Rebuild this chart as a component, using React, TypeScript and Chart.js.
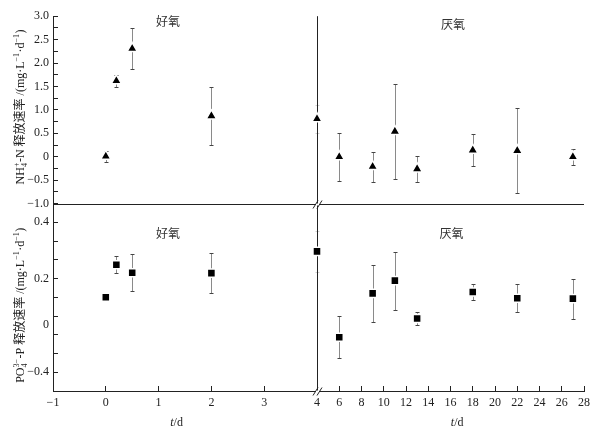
import React, { useEffect, useRef } from 'react';
import { Chart, registerables } from 'chart.js';
Chart.register(...registerables);

// ---- data ----
const aerobicDays = [0, 0.2, 0.5, 2, 4];
const anaerobicDays = [6, 9, 11, 13, 18, 22, 27];

const nhAerobic = [0.01, 1.62, 2.31, 0.87, 0.81];
const nhAerobicErr = [0.12, 0.13, 0.44, 0.62, 0.3];
const nhAnaerobic = [0.0, -0.21, 0.54, -0.26, 0.14, 0.13, 0.0];
const nhAnaerobicErr = [0.51, 0.32, 1.02, 0.28, 0.34, 0.9, 0.17];

const poAerobic = [0.0, 0.174, 0.131, 0.129, 0.245];
const poAerobicErr = [0, 0.044, 0.1, 0.105, 0.11];
const poAnaerobic = [-0.213, 0.021, 0.089, -0.113, 0.028, -0.005, -0.007];
const poAnaerobicErr = [0.112, 0.152, 0.155, 0.037, 0.043, 0.074, 0.107];

const faintAerobic = [false, false, false, false, true];
const faintAnaerobic = [false, false, false, false, false, false, false];

// ---- ticks ----
const leftXTicks = [-1, 0, 1, 2, 3, 4];
const rightXTicks = [4, 6, 8, 10, 12, 14, 16, 18, 20, 22, 24, 26, 28];
const poTickValues = [-0.5, -0.4, -0.3, -0.2, -0.145, -0.1, 0, 0.1, 0.2, 0.3, 0.4, 0.5];
const poLabelValues = [0.4, 0.1, -0.145, -0.4];
const poLabelTexts = ['0.4', '0.2', '0', '\u22120.4'];

const aerobicLabel = '好氧';
const anaerobicLabel = '厌氧';

const SERIF = '"Liberation Serif", "Times New Roman", "Noto Sans CJK SC", serif';
const INK = '#222';
const CLEAR = 'rgba(0,0,0,0)';

const near = (a: number, b: number) => Math.abs(a - b) < 1e-6;

const fmtNum = (v: number, digits: number) => {
  if (near(v, 0)) return '0';
  const s = Math.abs(v).toFixed(digits);
  return v < 0 ? '\u2212' + s : s;
};

type Seg = { t?: string; sup?: string; sub?: string };
const nhTitle: Seg[] = [
  { t: 'NH' }, { sub: '4', sup: '+' }, { t: '-N 释放速率 /(mg·L' }, { sup: '\u22121' }, { t: '·d' }, { sup: '\u22121' }, { t: ')' },
];
const poTitle: Seg[] = [
  { t: 'PO' }, { sub: '4', sup: '3\u2212' }, { t: '-P 释放速率 /(mg·L' }, { sup: '\u22121' }, { t: '·d' }, { sup: '\u22121' }, { t: ')' },
];

function drawRich(ctx: CanvasRenderingContext2D, segs: Seg[], cx: number, cy: number) {
  const big = '12px ' + SERIF;
  const small = '8px ' + SERIF;
  const widths = segs.map((s) => {
    if (s.t !== undefined) { ctx.font = big; return ctx.measureText(s.t).width; }
    ctx.font = small;
    return Math.max(s.sup ? ctx.measureText(s.sup).width : 0, s.sub ? ctx.measureText(s.sub).width : 0) + 0.5;
  });
  const total = widths.reduce((a, b) => a + b, 0);
  ctx.save();
  ctx.translate(cx, cy);
  ctx.rotate(-Math.PI / 2);
  ctx.fillStyle = INK;
  ctx.textBaseline = 'alphabetic';
  ctx.textAlign = 'left';
  let x = -total / 2;
  const base = 4;
  segs.forEach((s, i) => {
    if (s.t !== undefined) {
      ctx.font = big;
      ctx.fillText(s.t, x, base);
    } else {
      ctx.font = small;
      if (s.sup) ctx.fillText(s.sup, x, base - 5);
      if (s.sub) ctx.fillText(s.sub, x, base + 3);
    }
    x += widths[i];
  });
  ctx.restore();
}

const decor = {
  id: 'decor',
  beforeDatasetsDraw(chart: any) {
    const ctx: CanvasRenderingContext2D = chart.ctx;
    const { left, right, top, bottom } = chart.chartArea;
    const xR = chart.scales.xR;
    const yTop = chart.scales.yTop;
    const xb = Math.round(xR.getPixelForValue(4)) + 0.5;
    const ym = Math.round(yTop.getPixelForValue(-1)) + 0.5;
    ctx.save();
    ctx.lineWidth = 1;

    // error bars first (so frame lines stay on top)
    chart.data.datasets.forEach((ds: any, di: number) => {
      const meta = chart.getDatasetMeta(di);
      const ys = chart.scales[ds.yAxisID];
      meta.data.forEach((el: any, i: number) => {
        const e = ds.errors[i];
        if (!e) return;
        const v = ds.data[i].y;
        const faint = ds.faint[i];
        const x = Math.round(el.x) + 0.5;
        const y1 = Math.round(ys.getPixelForValue(v + e)) + 0.5;
        const y2 = Math.round(ys.getPixelForValue(v - e)) + 0.5;
        ctx.strokeStyle = faint ? '#dcdcdc' : '#8a8a8a';
        ctx.beginPath();
        ctx.moveTo(x, y1);
        ctx.lineTo(x, y2);
        ctx.stroke();
        ctx.strokeStyle = faint ? '#d0d0d0' : '#444';
        ctx.beginPath();
        ctx.moveTo(x - 2, y1);
        ctx.lineTo(x + 2, y1);
        ctx.moveTo(x - 2, y2);
        ctx.lineTo(x + 2, y2);
        ctx.stroke();
      });
    });

    ctx.strokeStyle = INK;
    ctx.beginPath();
    ctx.moveTo(left, ym);
    ctx.lineTo(right, ym);
    ctx.moveTo(xb, top);
    ctx.lineTo(xb, bottom);
    ctx.stroke();
    ctx.restore();
  },
  afterDraw(chart: any) {
    const ctx: CanvasRenderingContext2D = chart.ctx;
    const { bottom } = chart.chartArea;
    const { xL, xR, yTop, yBot } = chart.scales;
    const xb = Math.round(xR.getPixelForValue(4)) + 0.5;
    const ym = Math.round(yTop.getPixelForValue(-1)) + 0.5;
    ctx.save();
    // break marks
    ctx.strokeStyle = INK;
    ctx.lineWidth = 1;
    [ym, Math.round(bottom) + 0.5].forEach((y) => {
      ctx.fillStyle = '#fff';
      ctx.fillRect(xb - 2, y - 1, 4, 2);
      ctx.beginPath();
      [-2, 2].forEach((k) => {
        ctx.moveTo(xb + k - 2.5, y + 4);
        ctx.lineTo(xb + k + 2.5, y - 4);
      });
      ctx.stroke();
    });

    // panel annotations
    ctx.fillStyle = '#333';
    ctx.font = '12px "Noto Sans CJK SC", sans-serif';
    ctx.textAlign = 'center';
    ctx.textBaseline = 'middle';
    ctx.fillText(aerobicLabel, xL.getPixelForValue(1.18), yTop.getPixelForValue(2.89));
    ctx.fillText(anaerobicLabel, xR.getPixelForValue(16.22), yTop.getPixelForValue(2.82));
    ctx.fillText(aerobicLabel, xL.getPixelForValue(1.18), yBot.getPixelForValue(0.342));
    ctx.fillText(anaerobicLabel, xR.getPixelForValue(16.09), yBot.getPixelForValue(0.342));

    // x titles  (t/d)
    const drawTD = (cx: number, cy: number) => {
      ctx.textBaseline = 'middle';
      ctx.textAlign = 'left';
      ctx.font = 'italic 12px ' + SERIF;
      const w1 = ctx.measureText('t').width;
      ctx.font = '12px ' + SERIF;
      const w2 = ctx.measureText('/d').width;
      const x0 = cx - (w1 + w2) / 2;
      ctx.fillStyle = INK;
      ctx.font = 'italic 12px ' + SERIF;
      ctx.fillText('t', x0, cy);
      ctx.font = '12px ' + SERIF;
      ctx.fillText('/d', x0 + w1, cy);
    };
    drawTD(xL.getPixelForValue(1.34), bottom + 32);
    drawTD(xR.getPixelForValue(16.6), bottom + 32);

    // y titles
    drawRich(ctx, nhTitle, 20, (yTop.top + yTop.bottom) / 2 - 3);
    drawRich(ctx, poTitle, 20, (yBot.top + yBot.bottom) / 2 + 8);
    ctx.restore();
  },
};

const tickFont = { family: SERIF, size: 12 };

function makeData(xs: number[], ys: number[]) {
  return xs.map((x, i) => ({ x, y: ys[i] }));
}

export default function App() {
  const ref = useRef<HTMLCanvasElement>(null);
  useEffect(() => {
    if (!ref.current) return;
    const pointBase = {
      pointBackgroundColor: '#000',
      pointBorderColor: '#fff',
      pointBorderWidth: 1.5,
      showLine: false,
      clip: false,
    };
    const chart = new Chart(ref.current, {
      type: 'scatter',
      data: {
        datasets: [
          { ...pointBase, label: 'NH aerobic', data: makeData(aerobicDays, nhAerobic), xAxisID: 'xL', yAxisID: 'yTop', pointStyle: 'triangle', pointRadius: 6, errors: nhAerobicErr, faint: faintAerobic } as any,
          { ...pointBase, label: 'NH anaerobic', data: makeData(anaerobicDays, nhAnaerobic), xAxisID: 'xR', yAxisID: 'yTop', pointStyle: 'triangle', pointRadius: 6, errors: nhAnaerobicErr, faint: faintAnaerobic } as any,
          { ...pointBase, label: 'PO aerobic', data: makeData(aerobicDays, poAerobic), xAxisID: 'xL', yAxisID: 'yBot', pointStyle: 'rect', pointRadius: 5.7, errors: poAerobicErr, faint: faintAerobic } as any,
          { ...pointBase, label: 'PO anaerobic', data: makeData(anaerobicDays, poAnaerobic), xAxisID: 'xR', yAxisID: 'yBot', pointStyle: 'rect', pointRadius: 5.7, errors: poAnaerobicErr, faint: faintAnaerobic } as any,
        ],
      },
      options: {
        animation: false,
        responsive: true,
        maintainAspectRatio: false,
        layout: { padding: { left: 0, top: 15, right: 23, bottom: 0 } },
        plugins: { legend: { display: false }, tooltip: { enabled: false } },
        scales: {
          xL: {
            type: 'linear', position: 'bottom', stack: 'x', stackWeight: 264, weight: 1,
            min: -1, max: 4,
            afterBuildTicks: (s: any) => { s.ticks = leftXTicks.map((v) => ({ value: v })); },
            afterFit: (s: any) => { s.height = 49; },
            ticks: { autoSkip: false, maxRotation: 0, padding: 10, font: tickFont, color: INK, callback: (v: any) => fmtNum(Number(v), 0) },
            grid: { drawOnChartArea: false, tickLength: -5, tickColor: (c: any) => (c.tick && (near(c.tick.value, -1) || near(c.tick.value, 4)) ? CLEAR : INK) },
            border: { color: INK, width: 1 },
          },
          xR: {
            type: 'linear', position: 'bottom', stack: 'x', stackWeight: 267, weight: 2,
            min: 4, max: 28,
            afterBuildTicks: (s: any) => { s.ticks = rightXTicks.map((v) => ({ value: v })); },
            afterFit: (s: any) => { s.height = 49; },
            ticks: { autoSkip: false, maxRotation: 0, padding: 10, font: tickFont, color: INK, callback: (v: any) => (near(Number(v), 4) ? '' : String(v)) },
            grid: { drawOnChartArea: false, tickLength: -5, tickColor: (c: any) => (c.tick && near(c.tick.value, 4) ? CLEAR : INK) },
            border: { color: INK, width: 1 },
          },
          yTop: {
            type: 'linear', position: 'left', stack: 'y', stackWeight: 1, weight: 2,
            min: -1, max: 3,
            afterFit: (s: any) => { s.width = 53; },
            ticks: {
              autoSkip: false, stepSize: 0.25, padding: 9, font: tickFont, color: INK,
              callback: (v: any) => {
                const n = Number(v);
                if (!near(n * 2, Math.round(n * 2))) return '';
                return fmtNum(n, 1);
              },
            },
            grid: { drawOnChartArea: false, tickLength: -5, tickColor: INK },
            border: { color: INK, width: 1 },
          },
          yBot: {
            type: 'linear', position: 'left', stack: 'y', stackWeight: 1, weight: 1,
            min: -0.5, max: 0.5,
            afterBuildTicks: (s: any) => { s.ticks = poTickValues.map((v) => ({ value: v })); },
            afterFit: (s: any) => { s.width = 53; },
            ticks: {
              autoSkip: false, padding: 9, font: tickFont, color: INK,
              callback: (v: any) => {
                const n = Number(v);
                const idx = poLabelValues.findIndex((p) => near(p, n));
                return idx >= 0 ? poLabelTexts[idx] : '';
              },
            },
            grid: {
              drawOnChartArea: false, tickLength: -5,
              tickColor: (c: any) => (c.tick && (near(c.tick.value, -0.145) || near(c.tick.value, 0.5) || near(c.tick.value, -0.5)) ? CLEAR : INK),
            },
            border: { color: INK, width: 1 },
          },
        },
      } as any,
      plugins: [decor as any],
    });
    return () => chart.destroy();
  }, []);
  return (
    <div style={{ position: 'absolute', left: 0, top: 0, width: 607, height: 440, background: '#fff' }}>
      <canvas ref={ref} />
    </div>
  );
}
